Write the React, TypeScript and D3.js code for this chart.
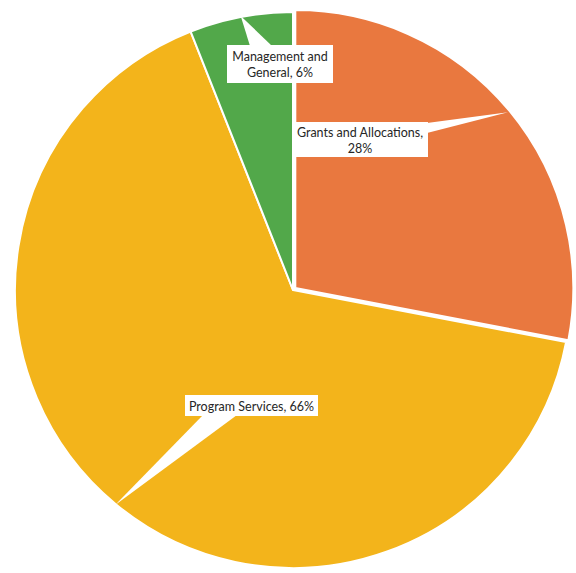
import * as d3 from 'd3'
import React from 'react'

const categories = ['Grants and Allocations', 'Program Services', 'Management and General']
const values = [28, 66, 6]
const colors = ['#E9783F', '#F3B41B', '#52A84A']
const labelLines = [['Grants and Allocations,', '28%'], ['Program Services, 66%'], ['Management and', 'General, 6%']]
const explode = [3, 0, 0]

// callout boxes: x, y, w, h, and which side the pointer leaves from
const boxes = [
  { x: 292, y: 122, w: 136, h: 35, side: 'right', a: 123, b: 133 },
  { x: 185, y: 395, w: 133, h: 21, side: 'bottom', a: 203, b: 237 },
  { x: 227, y: 45, w: 106, h: 38, side: 'top', a: 250, b: 272 },
]

const W = 576, H = 573, cx = 293, cy = 290, R = 278

export default function App() {
  const pie = d3.pie<number>().sort(null).value(d => d)
  const arcs = pie(values)
  const arc = d3.arc<d3.PieArcDatum<number>>().innerRadius(0).outerRadius(R)

  return (
    <svg width={W} height={H} style={{ position: 'absolute', left: 0, top: 0, background: '#fff' }}>
      <g transform={`translate(${cx},${cy})`}>
        {arcs.map((a, i) => {
          const mid = (a.startAngle + a.endAngle) / 2
          const dx = Math.sin(mid) * explode[i], dy = -Math.cos(mid) * explode[i]
          return <path key={categories[i]} d={arc(a) as string} transform={`translate(${dx},${dy})`}
            fill={colors[i]} stroke='#fff' strokeWidth={2} strokeLinejoin='round' />
        })}
      </g>
      {arcs.map((a, i) => {
        const mid = (a.startAngle + a.endAngle) / 2
        const px = cx + Math.sin(mid) * (R + 1), py = cy - Math.cos(mid) * (R + 1)
        const b = boxes[i]
        let p1: [number, number], p2: [number, number]
        if (b.side === 'right') { p1 = [b.x + b.w - 1, b.a]; p2 = [b.x + b.w - 1, b.b] }
        else if (b.side === 'top') { p1 = [b.a, b.y + 1]; p2 = [b.b, b.y + 1] }
        else { p1 = [b.a, b.y + b.h - 1]; p2 = [b.b, b.y + b.h - 1] }
        const lh = 16
        const ty = b.y + b.h / 2 - ((labelLines[i].length - 1) * lh) / 2
        return (
          <g key={'lab' + i}>
            <polygon points={`${px},${py} ${p1.join(',')} ${p2.join(',')}`} fill='#fff' />
            <rect x={b.x} y={b.y} width={b.w} height={b.h} fill='#fff' />
            <text x={b.x + b.w / 2} y={ty} textAnchor='middle' dominantBaseline='central'
              fontFamily='Lato, "Open Sans", sans-serif' fontSize={12.5} fill='#262626'>
              {labelLines[i].map((l, j) => <tspan key={j} x={b.x + b.w / 2} dy={j === 0 ? 0 : lh}>{l}</tspan>)}
            </text>
          </g>
        )
      })}
    </svg>
  )
}
